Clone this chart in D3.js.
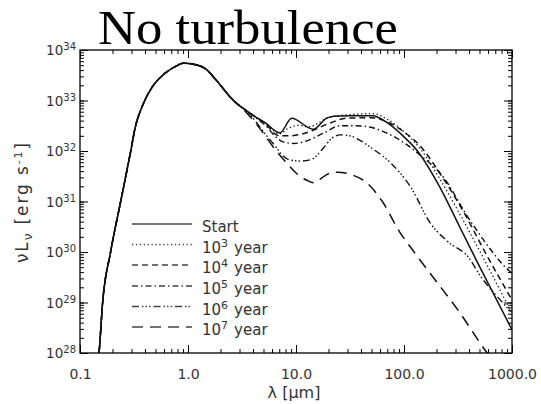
<!DOCTYPE html>
<html><head><meta charset="utf-8">
<script src="https://cdn.jsdelivr.net/npm/d3@7"></script>
<style>body{margin:0;background:#fff}</style>
</head><body><svg id="c" width="541" height="404"></svg>
<script>
// ---------------- data ----------------
const chartTitle = "No turbulence";
const xTickValues = [0.1, 1, 10, 100, 1000];
const xTickLabels = ["0.1", "1.0", "10.0", "100.0", "1000.0"];
const yTickExponents = [28, 29, 30, 31, 32, 33, 34];
const legendBase = ["Start", "10", "10", "10", "10", "10"];
const legendSup = ["", "3", "4", "5", "6", "7"];

// common stellar part (wavelength in micron, log10 of nuL_nu in erg/s)
const stellarLam  = [0.141, 0.15, 0.162, 0.192, 0.238, 0.295, 0.324, 0.383, 0.461, 0.589, 0.76, 0.9, 1.12, 1.49, 1.78, 2.61];
const stellarLogL = [27.6, 28.0, 29.0, 30.0, 31.0, 32.0, 32.46, 32.92, 33.25, 33.51, 33.67, 33.74, 33.72, 33.61, 33.43, 33.01];

const startLam  = [3.75, 5.25, 7.11, 9.12, 14.45, 19.2, 22.4, 31.6, 51.3, 70.8, 100, 131, 214, 331, 501, 1000];
const startLogL = [32.75, 32.55, 32.36, 32.65, 32.43, 32.65, 32.69, 32.70, 32.70, 32.55, 32.28, 32.02, 31.29, 30.48, 29.71, 28.46];

const yr3Lam  = [3.75, 5.25, 7.0, 8.5, 10.5, 13.2, 16, 20, 31.6, 52, 71, 100, 141, 224, 355, 562, 1000];
const yr3LogL = [32.75, 32.55, 32.34, 32.45, 32.51, 32.48, 32.55, 32.66, 32.72, 32.74, 32.62, 32.38, 32.05, 31.38, 30.62, 29.82, 28.78];

const yr4Lam  = [3.75, 5.25, 7.0, 8.7, 11, 14, 20.4, 29.5, 50, 71, 100, 141, 224, 355, 562, 1000];
const yr4LogL = [32.75, 32.53, 32.30, 32.30, 32.33, 32.40, 32.55, 32.65, 32.66, 32.57, 32.38, 32.10, 31.50, 30.80, 30.00, 29.05];

const yr5Lam  = [3.75, 5.25, 6.5, 7.6, 9.5, 12.6, 17.8, 25.7, 35, 51.3, 75, 107, 141, 234, 380, 562, 832, 1000];
const yr5LogL = [32.74, 32.50, 32.28, 32.18, 32.15, 32.20, 32.35, 32.50, 32.50, 32.46, 32.32, 32.12, 31.92, 31.47, 30.73, 30.20, 29.74, 29.58];

const yr6Lam  = [3.75, 5.0, 6.3, 7.6, 8.9, 11.2, 14.1, 17.8, 21.4, 25.7, 31.6, 40, 50, 74, 115, 178, 250, 407, 500, 708, 1000];
const yr6LogL = [32.72, 32.38, 32.12, 31.90, 31.82, 31.80, 31.84, 32.05, 32.25, 32.32, 32.30, 32.20, 32.06, 31.78, 31.29, 30.55, 30.22, 29.86, 29.55, 29.15, 28.80];

const yr7Lam  = [3.55, 5.0, 6.3, 8.3, 10.2, 12.6, 14.5, 16.6, 20, 24, 31.6, 45.7, 63, 91, 126, 186, 316, 589, 1000];
const yr7LogL = [32.74, 32.35, 32.05, 31.75, 31.55, 31.42, 31.37, 31.44, 31.55, 31.58, 31.54, 31.36, 31.00, 30.40, 29.98, 29.50, 28.85, 28.00, 27.40];

const seriesLam  = [startLam, yr3Lam, yr4Lam, yr5Lam, yr6Lam, yr7Lam];
const seriesLogL = [startLogL, yr3LogL, yr4LogL, yr5LogL, yr6LogL, yr7LogL];

// ---------------- styles ----------------
const dashes = [null, "1.3,2.6", "6,4", "6,3,1.5,3", "7,3,1.5,2,1.5,2,1.5,3", "11,7"];
const widths = [1.5, 1.3, 1.5, 1.4, 1.4, 1.5];

// ---------------- drawing ----------------
const svg = d3.select("#c");
const L = 80, R = 512, T = 50, B = 353;
const x = d3.scaleLog().domain([0.1, 1000]).range([L, R]);
const y = d3.scaleLog().domain([1e28, 1e34]).range([B, T]);
const font = "DejaVu Sans, Verdana, sans-serif";
const textFill = "#333";

svg.append("text").attr("x", 248).attr("y", 44).attr("text-anchor", "middle")
  .attr("font-family", "Liberation Serif, Times New Roman, serif").attr("font-size", 49)
  .attr("textLength", 300).attr("lengthAdjust", "spacingAndGlyphs")
  .attr("fill", "#000").text(chartTitle);

svg.append("defs").append("clipPath").attr("id", "clip")
  .append("rect").attr("x", L).attr("y", T).attr("width", R - L).attr("height", B - T);

const line = d3.line().x(d => x(d[0])).y(d => y(Math.pow(10, d[1]))).curve(d3.curveMonotoneX);
const g = svg.append("g").attr("clip-path", "url(#clip)");
seriesLam.forEach((lam, i) => {
  const pts = stellarLam.map((v, k) => [v, stellarLogL[k]])
    .concat(lam.map((v, k) => [v, seriesLogL[i][k]]));
  g.append("path").datum(pts).attr("d", line).attr("fill", "none")
    .attr("stroke", "#111").attr("stroke-width", widths[i])
    .attr("stroke-dasharray", dashes[i]);
});

// axes
const xMinor = x.ticks();
const yMinor = y.ticks();
function styleAxis(sel) {
  sel.select(".domain").remove();
  sel.selectAll("line").attr("stroke", "#000").attr("stroke-width", 1);
}
svg.append("g").attr("transform", `translate(0,${B})`)
  .call(d3.axisBottom(x).tickValues(xMinor).tickSize(-4).tickFormat("")).call(styleAxis);
svg.append("g").attr("transform", `translate(0,${T})`)
  .call(d3.axisTop(x).tickValues(xMinor).tickSize(-4).tickFormat("")).call(styleAxis);
svg.append("g").attr("transform", `translate(0,${T})`)
  .call(d3.axisTop(x).tickValues(xTickValues).tickSize(-8).tickFormat("")).call(styleAxis);
const xb = svg.append("g").attr("transform", `translate(0,${B})`)
  .call(d3.axisBottom(x).tickValues(xTickValues).tickSize(-8).tickPadding(16)
    .tickFormat((d, i) => xTickLabels[i])).call(styleAxis);
xb.selectAll("text").attr("font-family", font).attr("font-size", 14).attr("fill", textFill);

svg.append("g").attr("transform", `translate(${L},0)`)
  .call(d3.axisLeft(y).tickValues(yMinor).tickSize(-4).tickFormat("")).call(styleAxis);
svg.append("g").attr("transform", `translate(${R},0)`)
  .call(d3.axisRight(y).tickValues(yMinor).tickSize(-4).tickFormat("")).call(styleAxis);
svg.append("g").attr("transform", `translate(${R},0)`)
  .call(d3.axisRight(y).tickValues(yTickExponents.map(e => Math.pow(10, e))).tickSize(-8).tickFormat("")).call(styleAxis);
svg.append("g").attr("transform", `translate(${L},0)`)
  .call(d3.axisLeft(y).tickValues(yTickExponents.map(e => Math.pow(10, e))).tickSize(-8).tickFormat("")).call(styleAxis);

// y tick labels with superscripts
const yl = svg.append("g").attr("font-family", font).attr("fill", textFill);
yTickExponents.forEach(e => {
  const t = yl.append("text").attr("x", 76).attr("y", y(Math.pow(10, e)) + 5)
    .attr("text-anchor", "end").attr("font-size", 13.5);
  t.append("tspan").text("10");
  t.append("tspan").attr("font-size", 10).attr("dy", -5).text(String(e));
});

// frame
svg.append("rect").attr("x", L).attr("y", T).attr("width", R - L).attr("height", B - T)
  .attr("fill", "none").attr("stroke", "#000").attr("stroke-width", 1.3);

// axis titles
const xt = svg.append("text").attr("x", 294).attr("y", 398).attr("text-anchor", "middle")
  .attr("font-family", font).attr("font-size", 16).attr("fill", textFill);
xt.append("tspan").text("λ [");
xt.append("tspan").text("μ");
xt.append("tspan").text("m]");

const yt = svg.append("text").attr("transform", "translate(28,203) rotate(-90)")
  .attr("text-anchor", "middle").attr("font-family", font).attr("font-size", 17).attr("fill", textFill)
  .attr("textLength", 120).attr("lengthAdjust", "spacing");
yt.append("tspan").text("νL");
yt.append("tspan").attr("font-size", 12).attr("dy", 4).text("ν");
yt.append("tspan").attr("dy", -4).text(" [erg s");
yt.append("tspan").attr("font-size", 11).attr("dy", -6).text("-1");
yt.append("tspan").attr("dy", 6).text("]");

// legend
const lg = svg.append("g").attr("font-family", font).attr("fill", textFill);
const rowY = [224, 244.5, 265, 286, 306.5, 327];
legendBase.forEach((b, i) => {
  lg.append("line").attr("x1", 132).attr("x2", 192).attr("y1", rowY[i]).attr("y2", rowY[i])
    .attr("stroke", "#444").attr("stroke-width", widths[i]).attr("stroke-dasharray", dashes[i]);
  const t = lg.append("text").attr("x", 202).attr("y", rowY[i] + 8).attr("font-size", 15);
  t.append("tspan").text(b);
  if (legendSup[i]) {
    t.append("tspan").attr("font-size", 11).attr("dy", -6).text(legendSup[i]);
    t.append("tspan").attr("dy", 6).attr("dx", 6).text("year");
  }
});
</script></body></html>
